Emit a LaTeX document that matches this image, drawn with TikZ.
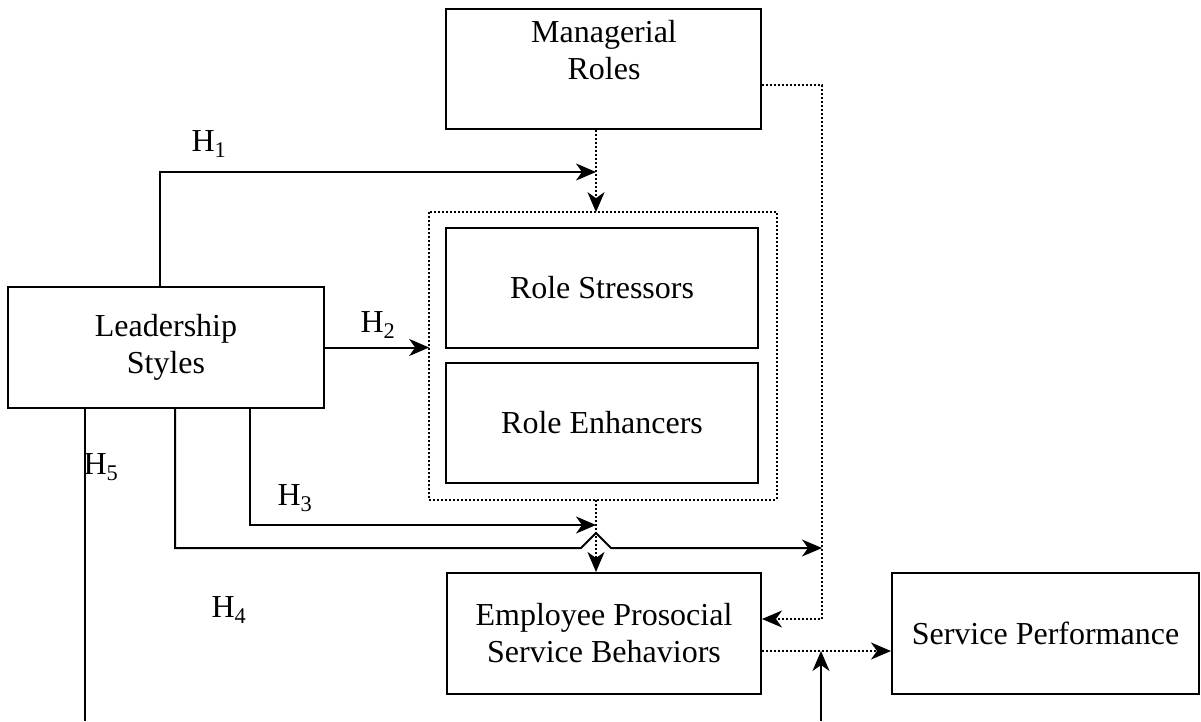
\documentclass[tikz,border=0pt]{standalone}
\usepackage{fontspec}
\setmainfont{Liberation Serif}
\usetikzlibrary{arrows.meta,calc}
\begin{document}
\begin{tikzpicture}[x=1pt,y=-1pt,
  box/.style={draw,line width=2pt,rectangle,inner sep=0pt,align=center,
    font=\fontsize{32}{37}\selectfont},
  lbl/.style={font=\fontsize{32}{37}\selectfont,inner sep=0pt},
  conn/.style={line width=2pt},
  dotln/.style={line width=1.7pt,dash pattern=on 2pt off 2pt},
  tip/.style={-{Stealth[length=20pt,width=17pt,inset=6pt]}}
]
\useasboundingbox (0,0) rectangle (1201,721);
% boxes
\node[box,minimum width=315,minimum height=120] (mr) at (603.5,69) {};
\node[lbl,align=center] (mrt) at (604,50) {Managerial\\Roles};
\node[box,minimum width=316,minimum height=121] (ls) at (166,347.5) {Leadership\\Styles};
\node[box,draw=none,dotln,minimum width=346,minimum height=286] (outer) at (603,356) {};
\draw[dotln] (outer.north west) rectangle (outer.south east);
\node[box,minimum width=312,minimum height=120] (rs) at (602,288) {Role Stressors};
\node[box,minimum width=312,minimum height=120] (re) at (602,423) {Role Enhancers};
\node[box,minimum width=314,minimum height=121] (ep) at (604,633.5) {Employee Prosocial\\Service Behaviors};
\node[box,minimum width=307,minimum height=121] (sp) at (1045.5,633.5) {Service Performance};
% coordinates
\coordinate (h1end) at (596,172);
\coordinate (h3end) at (596,525);
\coordinate (h4end) at (822,548);
\coordinate (h5end) at (85,721);
\coordinate (mrc) at (822,85);
\coordinate (spin) at (821,721);
% H1
\draw[conn,tip] ([xshift=-6]ls.north) |- (h1end);
% managerial down
\draw[dotln,tip] (mr.south -| h1end) -- (outer.north -| h1end);
% H2
\draw[conn,tip] (ls.east) -- (ls.east -| outer.west);
% outer to employee
\draw[dotln,tip] (outer.south -| h1end) -- (ep.north -| h1end);
% H3
\draw[conn,tip] (ls.south -| 250,0) |- (h3end);
% H4 with bridge
\draw[conn,tip] (ls.south -| 175,0) -- (175,548) -- (581,548) -- (596,533) -- (611,548) -- (h4end);
% H5
\draw[conn] (ls.south -| h5end) -- (h5end);
% managerial right dotted
\draw[dotln,tip] (mr.east |- mrc) -- (mrc) -- (822,619) -- (ep.east |- 0,619);
% employee to service performance
\draw[dotln,tip] (ep.east |- 0,651) -- (sp.west |- 0,651);
\draw[conn,tip] (spin) -- (spin |- 0,651);
% labels
\node[lbl] (l1) at (209,144) {H\textsubscript{1}};
\node[lbl] (l2) at (378,325) {H\textsubscript{2}};
\node[lbl] (l3) at (295,498) {H\textsubscript{3}};
\node[lbl] (l4) at (229,610) {H\textsubscript{4}};
\node[lbl] (l5) at (101,467) {H\textsubscript{5}};
\end{tikzpicture}
\end{document}
